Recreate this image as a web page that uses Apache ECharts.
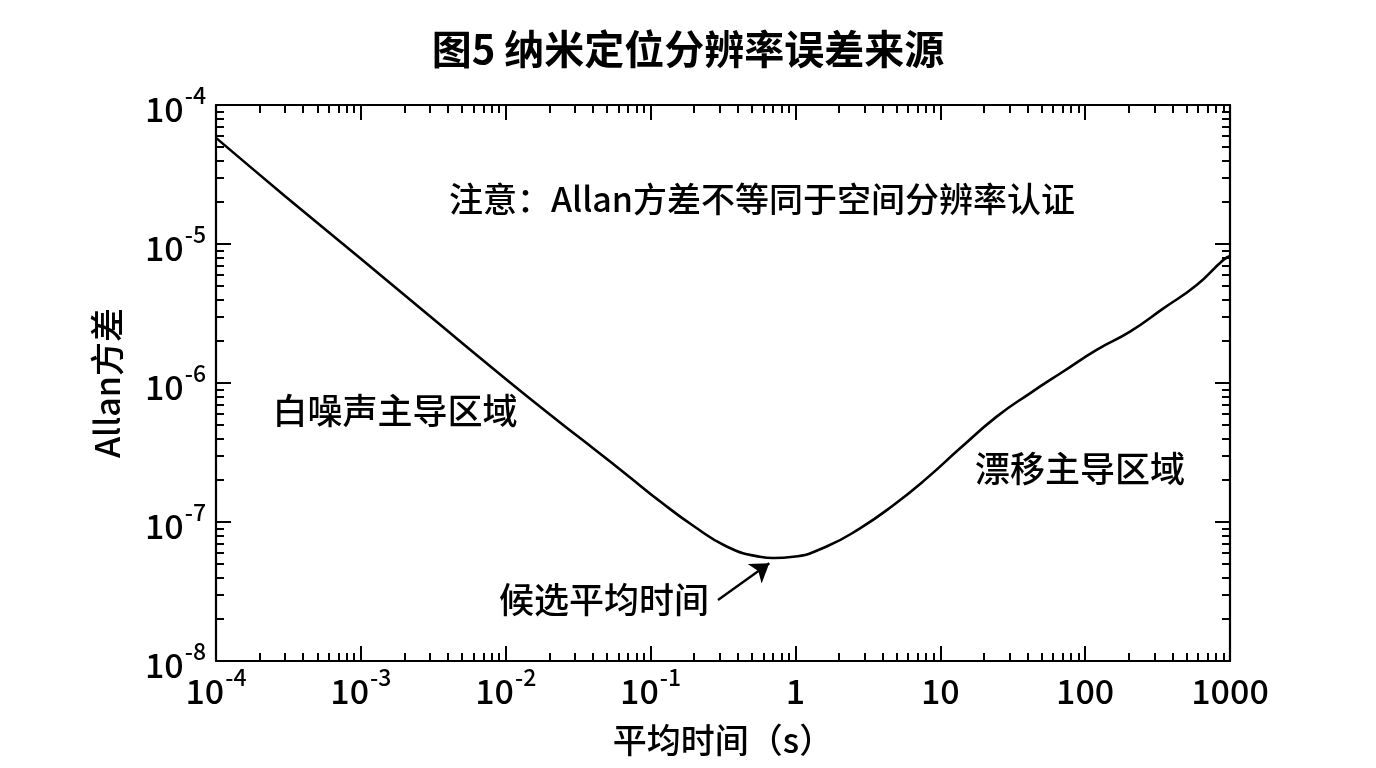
<!DOCTYPE html>
<html><head><meta charset="utf-8">
<script src="https://cdn.jsdelivr.net/npm/echarts@6/dist/echarts.min.js"></script>
<style>html,body{margin:0;padding:0;background:#fff}#c{width:1376px;height:768px}</style>
</head><body><div id="c"></div>
<script>
// ---- data ----
const tau      = [1e-4, 3e-4, 1e-3, 3e-3, 1e-2, 0.0237, 0.0403, 0.0684, 0.116, 0.197, 0.335, 0.569, 0.703, 0.966, 1.64, 2.79, 4.74, 8.05, 13.7, 24.5, 41.6, 70.6, 120, 204, 347, 589, 899, 1000];
const allanVar = [5.8e-5, 2.21e-5, 7.83e-6, 3.02e-6, 1.07e-6, 5.2e-7, 3.38e-7, 2.19e-7, 1.41e-7, 9.4e-8, 6.67e-8, 5.62e-8, 5.51e-8, 5.62e-8, 6.67e-8, 9.0e-8, 1.32e-7, 2.06e-7, 3.39e-7, 5.73e-7, 8.43e-7, 1.21e-6, 1.73e-6, 2.34e-6, 3.44e-6, 5.07e-6, 7.67e-6, 8.2e-6];
const xDecades = [-4, -3, -2, -1, 0, 1, 2, 3];
const yDecades = [-8, -7, -6, -5, -4];
const minorMultipliers = [2, 3, 4, 5, 6, 7, 8, 9];
const arrowTail = [0.292, 2.75e-8];
const arrowHead = [0.660, 5.05e-8];
const titleText = '图5 纳米定位分辨率误差来源';
const xName = '平均时间（s）';
const yName = 'Allan方差';
const notes = [
  {text: '注意：Allan方差不等同于空间分辨率认证', x: 762, y: 199, size: 34},
  {text: '白噪声主导区域', x: 395, y: 411, size: 35},
  {text: '漂移主导区域', x: 1080, y: 469, size: 35},
  {text: '候选平均时间', x: 604, y: 600, size: 35}
];

// minor tick positions in exponent space
function minorList(decs) {
  const out = [];
  for (let i = 0; i < decs.length - 1; i++) {
    minorMultipliers.forEach(m => out.push(decs[i] + Math.log10(m)));
  }
  return out;
}
const FONT = '"Noto Sans CJK SC", "Noto Sans", sans-serif';
const W = 500;
const rich = {
  b: {fontSize: 34, fontFamily: FONT, fontWeight: W, color: '#000', lineHeight: 42, verticalAlign: 'bottom'},
  s: {fontSize: 23, fontFamily: FONT, fontWeight: W, color: '#000', lineHeight: 42, verticalAlign: 'top', padding: [0, 0, 0, 1]}
};
function fmtX(v) {
  const e = Math.round(Math.log10(v));
  if (e >= 0) return '{b|' + Math.round(Math.pow(10, e)) + '}';
  return '{b|10}{s|' + e + '}';
}
function fmtY(v) {
  const e = Math.round(Math.log10(v));
  return '{b|10}{s|' + e + '}';
}
const line = {lineStyle: {color: '#000', width: 2}};
const axLine = {show: true, onZero: false, lineStyle: {color: '#000', width: 2.2}};
const noLine = {show: false, onZero: false};
const chart = echarts.init(document.getElementById('c'));
const xMin = Math.pow(10, xDecades[0]), xMax = Math.pow(10, xDecades[xDecades.length - 1]);
const yMin = Math.pow(10, yDecades[0]), yMax = Math.pow(10, yDecades[yDecades.length - 1]);
chart.setOption({
  backgroundColor: '#fff',
  animation: false,
  title: {text: titleText, left: 'center', top: 24,
    textStyle: {fontFamily: FONT, fontSize: 40, fontWeight: 'bold', color: '#000'}},
  grid: {left: 216, right: 146, top: 105, bottom: 107},
  xAxis: [
    {type: 'log', min: xMin, max: xMax, position: 'bottom',
     axisLine: axLine, axisTick: {show: true, inside: true, length: 15, ...line},
     axisLabel: {formatter: fmtX, rich: rich, margin: 5},
     splitLine: {show: false}, minorTick: {show: false},
     name: xName, nameLocation: 'middle', nameGap: 62,
     nameTextStyle: {fontFamily: FONT, fontSize: 34, fontWeight: W, color: '#000'}},
    {type: 'log', min: xMin, max: xMax, position: 'top',
     axisLine: axLine, axisTick: {show: true, inside: true, length: 15, ...line},
     axisLabel: {show: false}, splitLine: {show: false}},
    {type: 'value', min: xDecades[0], max: xDecades[xDecades.length - 1], position: 'bottom',
     axisLine: noLine, axisTick: {show: true, inside: true, length: 8, customValues: minorList(xDecades), ...line},
     axisLabel: {show: false}, splitLine: {show: false}},
    {type: 'value', min: xDecades[0], max: xDecades[xDecades.length - 1], position: 'top',
     axisLine: noLine, axisTick: {show: true, inside: true, length: 8, customValues: minorList(xDecades), ...line},
     axisLabel: {show: false}, splitLine: {show: false}}
  ],
  yAxis: [
    {type: 'log', min: yMin, max: yMax, position: 'left',
     axisLine: axLine, axisTick: {show: true, inside: true, length: 15, ...line},
     axisLabel: {formatter: fmtY, rich: rich, margin: 10},
     splitLine: {show: false},
     name: yName, nameLocation: 'middle', nameGap: 92,
     nameTextStyle: {fontFamily: FONT, fontSize: 34, fontWeight: W, color: '#000'}},
    {type: 'log', min: yMin, max: yMax, position: 'right',
     axisLine: axLine, axisTick: {show: true, inside: true, length: 15, ...line},
     axisLabel: {show: false}, splitLine: {show: false}},
    {type: 'value', min: yDecades[0], max: yDecades[yDecades.length - 1], position: 'left',
     axisLine: noLine, axisTick: {show: true, inside: true, length: 8, customValues: minorList(yDecades), ...line},
     axisLabel: {show: false}, splitLine: {show: false}},
    {type: 'value', min: yDecades[0], max: yDecades[yDecades.length - 1], position: 'right',
     axisLine: noLine, axisTick: {show: true, inside: true, length: 8, customValues: minorList(yDecades), ...line},
     axisLabel: {show: false}, splitLine: {show: false}}
  ],
  series: [{
    type: 'line', xAxisIndex: 0, yAxisIndex: 0,
    data: tau.map((t, i) => [t, allanVar[i]]),
    smooth: 0.5, showSymbol: false, symbol: 'none',
    lineStyle: {color: '#000', width: 2.6},
    markLine: {
      silent: true, symbol: ['none', 'arrow'], symbolSize: 18,
      label: {show: false},
      lineStyle: {color: '#000', width: 2.4, type: 'solid'},
      itemStyle: {color: '#000'},
      data: [[{coord: arrowTail}, {coord: arrowHead}]]
    }
  }],
  graphic: notes.map(n => ({
    type: 'text', x: n.x, y: n.y,
    style: {text: n.text, fontFamily: FONT, fontSize: n.size, fontWeight: W, fill: '#000', align: 'center', verticalAlign: 'middle'}
  }))
});
</script></body></html>
